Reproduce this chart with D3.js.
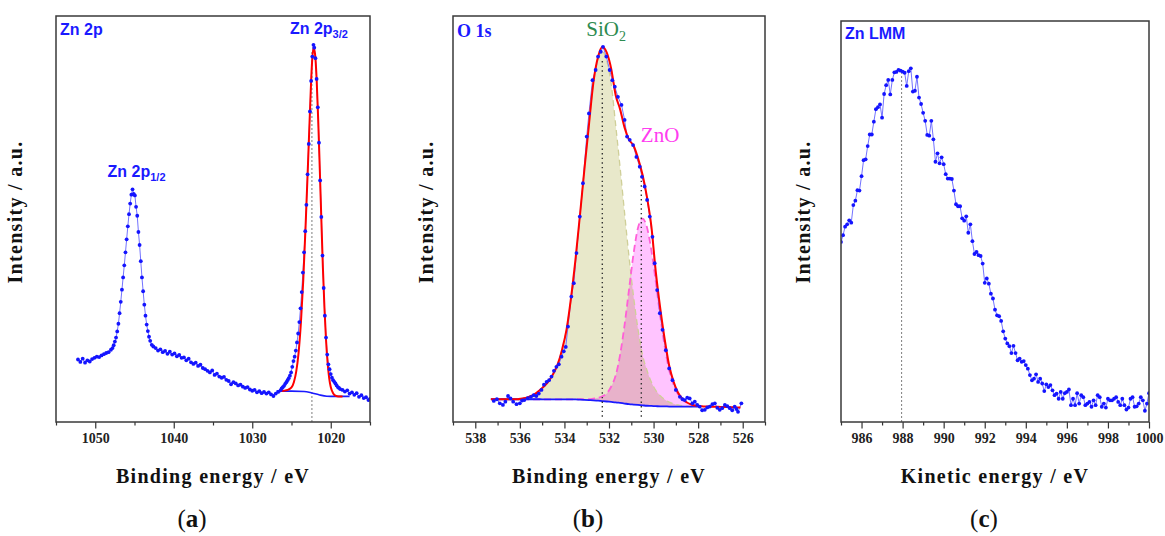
<!DOCTYPE html>
<html>
<head>
<meta charset="utf-8">
<script src="https://cdn.jsdelivr.net/npm/d3@7"></script>
<style>
  body { margin: 0; background: #fff; }
  svg { display: block; }
  .tick text { font-family: "Liberation Serif", "Times New Roman", serif; font-weight: bold; font-size: 14px; fill: #222; }
  .tick line { stroke: #333; stroke-width: 1.2; }
</style>
</head>
<body>
<svg id="chart" width="1165" height="536"></svg>
<script>
// ---- (a) Zn 2p : [binding energy eV, intensity a.u.] ----
const zn2pData = [
  [1052.2,15.4],[1051.9,14.8],[1051.6,15.6],[1051.3,14.6],[1051.0,15.2],[1050.7,14.9],[1050.4,15.5],[1050.1,15.8],
  [1049.8,16.1],[1049.5,16.0],[1049.2,16.4],[1048.9,16.7],[1048.6,17.0],[1048.3,17.2],[1048.0,17.8],
  [1047.8,18.2],[1047.65,18.9],[1047.5,19.8],[1047.35,20.8],[1047.2,22.3],[1047.05,24.2],[1046.9,26.8],[1046.75,29.6],
  [1046.6,32.6],[1046.45,35.6],[1046.3,38.6],[1046.15,41.8],[1046.0,45.0],[1045.85,48.2],[1045.7,51.2],[1045.55,53.8],
  [1045.4,56.0],[1045.25,57.3],[1045.1,56.2],[1044.95,55.8],[1044.8,53.0],[1044.65,50.8],[1044.5,46.8],[1044.35,43.6],
  [1044.2,39.6],[1044.05,35.6],[1043.9,32.2],[1043.75,28.9],[1043.6,26.2],[1043.45,24.0],[1043.3,22.4],[1043.15,21.0],
  [1043.0,20.0],[1042.8,19.0],
  [1042.6,18.6],[1042.3,18.2],[1042.0,17.6],[1041.7,17.9],[1041.4,17.2],[1041.1,17.5],[1040.8,16.8],[1040.5,17.3],
  [1040.2,16.6],[1039.9,16.9],[1039.6,16.2],[1039.3,16.5],[1039.0,15.8],[1038.7,15.9],[1038.4,15.2],[1038.1,15.6],
  [1037.8,14.7],[1037.5,14.3],[1037.2,14.6],[1036.9,13.8],[1036.6,14.1],[1036.3,13.3],[1036.0,13.0],[1035.7,12.6],
  [1035.4,12.2],[1035.1,12.7],[1034.8,11.6],[1034.5,11.9],[1034.2,11.2],[1033.9,10.9],[1033.6,11.1],[1033.3,10.4],
  [1033.0,10.1],[1032.7,9.3],[1032.4,9.8],[1032.1,9.5],[1031.8,9.0],[1031.5,9.2],[1031.2,8.7],[1030.9,8.4],
  [1030.6,8.6],[1030.3,8.0],[1030.0,7.7],[1029.7,7.9],[1029.4,7.3],[1029.1,7.6],[1028.8,7.1],[1028.5,7.4],
  [1028.2,7.0],[1027.9,7.3],[1027.6,6.8],[1027.3,6.4],[1027.0,7.0],[1026.7,7.4],
  [1026.4,7.8],[1026.25,8.3],[1026.1,8.6],[1025.95,8.9],[1025.8,9.4],[1025.65,9.8],[1025.5,10.3],[1025.35,10.8],
  [1025.2,11.4],[1025.05,12.2],[1024.9,13.6],[1024.75,15.0],[1024.6,16.1],[1024.45,17.6],[1024.3,19.6],[1024.15,21.8],
  [1024.0,24.6],[1023.85,28.0],[1023.7,32.0],[1023.55,36.8],[1023.4,41.8],[1023.25,47.0],[1023.1,53.5],[1022.95,61.0],
  [1022.8,68.5],[1022.65,76.5],[1022.5,84.0],[1022.35,90.0],[1022.2,92.9],[1022.1,92.2],[1021.95,89.6],[1021.8,84.5],
  [1021.65,77.5],[1021.5,68.8],[1021.35,59.5],[1021.2,50.5],[1021.05,41.0],[1020.9,33.0],[1020.75,26.2],[1020.6,20.8],
  [1020.45,16.6],[1020.3,14.2],[1020.15,13.0],[1020.0,11.8],[1019.85,10.9],[1019.7,10.3],[1019.55,9.9],[1019.4,9.5],
  [1019.25,9.0],[1019.1,8.6],[1018.95,8.4],[1018.8,8.1],
  [1018.5,7.9],[1018.2,7.5],[1017.9,7.8],[1017.6,7.0],[1017.3,7.3],[1017.0,6.7],[1016.7,7.1],[1016.4,6.2],
  [1016.1,6.6],[1015.8,5.9],[1015.5,6.1],[1015.2,5.4],[1015.0,5.7]
];
const zn2pFit = [
  [1026.6,7.6],[1026.0,7.7],[1025.5,7.9],[1025.0,8.5],[1024.7,9.8],[1024.4,12.4],[1024.1,17.0],[1023.8,24.5],
  [1023.5,35.0],[1023.2,48.5],[1022.9,63.5],[1022.6,79.0],[1022.4,88.0],[1022.2,92.2],[1022.0,90.6],[1021.8,84.5],
  [1021.6,74.5],[1021.4,62.5],[1021.2,50.0],[1021.0,38.0],[1020.8,28.0],[1020.6,20.2],[1020.4,14.6],[1020.2,10.8],
  [1020.0,8.6],[1019.7,7.1],[1019.4,6.5],[1019.0,6.3],[1018.5,6.3]
];
const zn2pBackground = [
  [1026.9,7.6],[1025.0,7.6],[1023.4,7.5],[1022.5,7.2],[1021.5,6.7],[1020.5,6.35],[1019.5,6.3],[1017.6,6.3]
];
const zn2pPeak = [1022.4, 91.5];
const zn2pTicks = [1050, 1040, 1030, 1020];
const zn2pMinorTicks = [1055, 1045, 1035, 1025, 1015];

// ---- (b) O 1s ----
const o1sData = [
  [537.17,5.2],[537.03,5.6],[536.9,4.6],[536.76,4.2],[536.65,5.0],[536.53,6.4],[536.42,5.8],[536.3,5.0],
  [536.15,4.4],[536.0,4.6],[535.9,5.3],[535.8,5.4],[535.65,5.9],[535.5,6.2],[535.38,6.6],[535.26,6.4],
  [535.15,7.0],[535.03,7.9],[534.92,9.2],[534.8,9.9],[534.69,10.3],[534.58,11.2],[534.47,12.6],[534.36,13.6],
  [534.25,14.2],[534.13,16.1],[534.03,17.4],[533.94,18.5],[533.84,23.5],[533.69,30.9],[533.58,34.2],[533.46,41.6],
  [533.31,50.6],[533.17,58.8],[533.0,70.3],[532.9,76.0],[532.74,84.2],[532.6,86.7],[532.49,90.0],[532.37,91.2],
  [532.27,92.4],[532.12,90.0],[531.97,86.7],[531.85,84.2],[531.74,82.6],[531.6,80.1],[531.44,78.1],[531.3,74.4],
  [531.19,70.3],[531.07,69.5],[530.92,68.2],[530.77,65.3],[530.62,62.9],[530.52,60.4],[530.4,58.0],[530.29,54.7],
  [530.17,50.6],[530.05,45.6],[529.95,39.1],[529.84,32.5],[529.72,26.8],[529.6,22.7],[529.45,17.7],[529.3,13.2],
  [529.15,10.3],[529.0,7.9],[528.82,6.2],[528.7,5.6],[528.6,5.4],[528.49,6.0],[528.38,5.8],[528.26,4.6],
  [528.15,5.0],[528.04,4.2],[527.93,3.8],[527.82,2.9],[527.7,3.0],[527.59,3.6],[527.48,3.8],[527.36,4.4],
  [527.25,4.6],[527.14,3.5],[527.03,3.0],[526.92,3.4],[526.8,4.2],[526.69,3.9],[526.58,3.4],[526.47,2.9],
  [526.36,3.8],[526.28,3.2],[526.21,2.5],[526.06,4.6]
];
const o1sFitEnergy = [
  537.3,537.1,536.9,536.7,536.5,536.3,536.1,535.9,535.7,535.5,535.3,535.1,534.9,534.7,534.5,534.3,534.1,533.9,533.7,
  533.5,533.3,533.1,532.9,532.7,532.5,532.3,532.1,531.9,531.7,531.5,531.3,531.1,530.9,530.7,530.5,530.3,530.1,529.9,
  529.7,529.5,529.3,529.1,528.9,528.7,528.5,528.3,528.1,527.9,527.7,527.5,527.3,527.1,526.9,526.7,526.5,526.3,526.1
];
const o1sEnvelope = [
  5.6,5.6,5.6,5.6,5.6,5.6,5.6,5.8,6.0,6.4,7.0,7.9,8.85,10.15,11.85,14.25,17.95,22.95,30.75,
  40.25,51.15,62.45,73.2,83.65,89.75,92.35,90.95,86.95,80.5,77.0,72.5,69.5,68.1,65.0,61.0,55.5,48.25,37.0,
  28.0,20.35,13.9,9.9,7.2,5.7,4.8,4.3,4.0,3.9,3.8,3.8,3.75,3.75,3.7,3.7,3.65,3.6,3.6
];
const o1sSiO2 = [
  5.6,5.6,5.6,5.6,5.6,5.6,5.6,5.8,6.0,6.4,7.0,7.9,8.85,10.15,11.85,14.25,17.95,22.95,30.75,
  40.25,51.0,62.35,73.0,83.25,89.05,91.15,88.95,83.15,73.15,62.6,51.45,40.6,31.0,22.9,16.6,12.8,9.85,7.8,
  6.45,5.55,4.9,4.5,4.2,4.0,3.9,3.8,3.8,3.8,null,null,null,null,null,null,null,null,null
];
const o1sZnO = [
  null,null,null,null,null,null,null,5.6,5.6,5.6,5.6,5.6,5.55,5.55,5.55,5.55,5.55,5.55,5.55,
  5.55,5.65,5.55,5.6,5.75,5.95,6.35,7.05,8.75,11.45,16.6,23.95,32.7,41.4,47.8,50.1,48.0,42.35,34.5,
  26.05,18.65,12.8,9.2,6.8,5.5,4.7,4.3,4.0,3.9,null,null,null,null,null,null,null,null,null
];
const o1sBackground = [
  5.6,5.6,5.6,5.6,5.6,5.6,5.6,5.6,5.6,5.6,5.6,5.6,5.55,5.55,5.55,5.55,5.55,5.55,5.55,
  5.55,5.5,5.45,5.4,5.35,5.25,5.15,5.05,4.95,4.85,4.7,4.55,4.4,4.3,4.2,4.1,4.0,3.95,3.9,
  3.85,3.85,3.8,3.8,3.8,3.8,3.8,3.8,3.8,3.8,null,null,null,null,null,null,null,null,null
];
const o1sPeaks = [532.3, 530.55];
const o1sPeakTops = [89.6, 60.4];
const o1sTicks = [538, 536, 534, 532, 530, 528, 526];
const o1sMinorTicks = [539, 537, 535, 533, 531, 529, 527, 525];

// ---- (c) Zn LMM : [kinetic energy eV, intensity a.u.] ----
const lmmData = [
  [985.0,44.9],[985.1,46.6],[985.2,48.7],[985.3,49.3],[985.4,50.3],[985.5,49.7],[985.6,54.1],[985.7,55.2],[985.8,57.8],[985.9,57.7],
  [986.0,61.3],[986.1,65.3],[986.2,65.5],[986.3,68.8],[986.4,71.7],[986.5,71.7],[986.6,74.9],[986.7,78.0],[986.8,78.5],[986.9,79.2],
  [987.0,75.9],[987.1,81.8],[987.2,84.0],[987.3,85.3],[987.4,81.7],[987.5,85.3],[987.6,87.2],[987.7,87.3],[987.8,87.8],[987.9,87.6],
  [988.0,87.4],[988.1,87.1],[988.2,83.8],[988.3,87.5],[988.4,88.2],[988.5,82.4],[988.6,82.6],[988.7,86.1],[988.8,80.9],[988.9,79.3],
  [989.0,77.1],[989.1,75.1],[989.2,71.6],[989.3,71.4],[989.4,75.1],[989.5,70.5],[989.6,64.9],[989.7,67.0],[989.8,64.5],[989.9,66.0],
  [990.0,64.3],[990.1,61.8],[990.2,60.7],[990.3,60.7],[990.4,60.6],[990.5,57.7],[990.6,54.3],[990.7,53.8],[990.8,53.8],[990.9,50.8],
  [991.0,50.2],[991.1,51.3],[991.2,47.2],[991.3,49.3],[991.4,45.1],[991.5,41.9],[991.6,42.4],[991.7,41.6],[991.8,41.4],[991.9,39.5],
  [992.0,34.7],[992.1,35.8],[992.2,34.5],[992.3,32.0],[992.4,30.8],[992.5,28.0],[992.6,26.6],[992.7,26.4],[992.8,25.2],[992.9,22.6],
  [993.0,20.8],[993.1,19.6],[993.2,18.9],[993.3,17.2],[993.4,19.0],[993.5,17.2],[993.6,15.4],[993.7,15.8],[993.8,15.0],[993.9,15.2],
  [994.0,14.2],[994.1,13.3],[994.2,11.7],[994.3,10.4],[994.4,10.8],[994.5,11.9],[994.6,10.0],[994.7,10.8],[994.8,9.6],[994.9,7.7],
  [995.0,9.4],[995.1,8.7],[995.2,9.2],[995.3,7.9],[995.4,6.7],[995.5,7.1],[995.6,5.8],[995.7,7.5],[995.8,5.8],[995.9,7.2],
  [996.0,7.5],[996.1,8.1],[996.2,4.2],[996.3,5.8],[996.4,4.2],[996.5,7.2],[996.6,4.6],[996.7,6.7],[996.8,6.2],[996.9,4.2],
  [997.0,4.6],[997.1,5.0],[997.2,3.8],[997.3,5.4],[997.4,4.2],[997.5,6.7],[997.6,6.2],[997.7,3.8],[997.8,4.6],[997.9,3.6],
  [998.0,5.8],[998.1,5.4],[998.2,5.4],[998.3,5.8],[998.4,6.2],[998.5,5.0],[998.6,4.2],[998.7,5.8],[998.8,4.2],[998.9,3.1],
  [999.0,3.6],[999.1,5.8],[999.2,6.2],[999.3,3.8],[999.4,3.9],[999.5,4.6],[999.6,6.2],[999.7,5.4],[999.8,2.8],[999.9,4.6],
  [1000.0,7.2]
];
const lmmPeak = [987.95, 87];
const lmmTicks = [986, 988, 990, 992, 994, 996, 998, 1000];
const lmmMinorTicks = [985, 987, 989, 991, 993, 995, 997, 999];

const svg = d3.select("#chart");
const serif = '"Liberation Serif", "Times New Roman", serif';
const sans = '"Liberation Sans", Arial, sans-serif';

function makePanel(id, box, xDomain, ticks, minorTicks, xTitle, letter, letterX, yTitleX) {
  const g = svg.append("g").attr("transform", `translate(${box.left},${box.top})`);
  const x = d3.scaleLinear().domain(xDomain).range([0, box.width]);
  const y = d3.scaleLinear().domain([0, 100]).range([box.height, 0]);

  g.append("clipPath").attr("id", "clip-" + id)
    .append("rect").attr("width", box.width).attr("height", box.height);
  const plot = g.append("g").attr("clip-path", `url(#clip-${id})`);

  // minor and major ticks
  g.append("g")
    .attr("transform", `translate(0,${box.height})`)
    .call(d3.axisBottom(x).tickValues(minorTicks).tickSize(3.5).tickFormat(""))
    .call(a => a.select(".domain").remove());
  g.append("g")
    .attr("transform", `translate(0,${box.height})`)
    .call(d3.axisBottom(x).tickValues(ticks).tickSize(6.5).tickPadding(5).tickFormat(d3.format("d")))
    .call(a => a.select(".domain").remove());

  // axis titles
  svg.append("text")
    .attr("x", box.left + box.width / 2).attr("y", 483)
    .attr("text-anchor", "middle")
    .style("font-family", serif).style("font-weight", "bold").style("font-size", "20px")
    .style("letter-spacing", "1.3px").style("fill", "#111")
    .text(xTitle);
  svg.append("text")
    .attr("transform", `translate(${yTitleX},212) rotate(-90)`)
    .attr("text-anchor", "middle")
    .style("font-family", serif).style("font-weight", "bold").style("font-size", "20px")
    .style("letter-spacing", "1.3px").style("fill", "#111")
    .text("Intensity / a.u.");

  // panel letter
  const t = svg.append("text")
    .attr("x", letterX).attr("y", 527)
    .attr("text-anchor", "middle")
    .style("font-family", serif).style("font-size", "25px").style("fill", "#111");
  t.append("tspan").text("(");
  t.append("tspan").style("font-weight", "bold").text(letter);
  t.append("tspan").text(")");

  return { g, plot, x, y, box };
}

function drawFrame(p) {
  p.g.append("rect")
    .attr("width", p.box.width).attr("height", p.box.height)
    .attr("fill", "none").attr("stroke", "#3a3a3a").attr("stroke-width", 1.5);
}

function drawSpectrum(p, data) {
  const line = d3.line().x(d => p.x(d[0])).y(d => p.y(d[1]));
  p.plot.append("path").datum(data)
    .attr("d", line).attr("fill", "none")
    .attr("stroke", "#7373ff").attr("stroke-width", 1);
}

function drawDots(p, data) {
  p.plot.append("g").selectAll("circle")
    .data(data).join("circle")
    .attr("cx", d => p.x(d[0])).attr("cy", d => p.y(d[1]))
    .attr("r", 1.9).attr("fill", "#1414ff");
}

function drawCurve(p, data, color, width, dash) {
  const line = d3.line()
    .defined(d => d[1] != null)
    .x(d => p.x(d[0])).y(d => p.y(d[1]))
    .curve(d3.curveMonotoneX);
  const path = p.plot.append("path").datum(data)
    .attr("d", line).attr("fill", "none")
    .attr("stroke", color).attr("stroke-width", width);
  if (dash) path.attr("stroke-dasharray", dash);
  return path;
}

function drawMarker(p, xv, top, bottom, color, dash, width) {
  p.plot.append("line")
    .attr("x1", p.x(xv)).attr("x2", p.x(xv))
    .attr("y1", p.y(bottom)).attr("y2", p.y(top))
    .attr("stroke", color).attr("stroke-width", width)
    .attr("stroke-dasharray", dash);
}

// ---------- (a) ----------
const pa = makePanel("a", { left: 56, top: 16, width: 314, height: 406 }, [1055, 1015],
  zn2pTicks, zn2pMinorTicks, "Binding energy / eV", "a", 192, 22);
drawMarker(pa, zn2pPeak[0], zn2pPeak[1], 0, "#8a8a8a", "2,2", 1.1);
drawSpectrum(pa, zn2pData);
drawCurve(pa, zn2pBackground, "#1a1aff", 1.6);
drawCurve(pa, zn2pFit, "#ff0000", 2);
drawDots(pa, zn2pData);
drawFrame(pa);

pa.g.append("text").attr("x", 4).attr("y", 19)
  .style("font-family", sans).style("font-weight", "bold").style("font-size", "16px").style("fill", "#1a1aff")
  .text("Zn 2p");
const l32 = pa.g.append("text").attr("x", pa.x(zn2pPeak[0]) - 22).attr("y", 17.5)
  .style("font-family", sans).style("font-weight", "bold").style("font-size", "16px").style("fill", "#1a1aff");
l32.append("tspan").text("Zn 2p");
l32.append("tspan").attr("dy", 4.5).style("font-size", "11px").text("3/2");
const l12 = pa.g.append("text").attr("x", pa.x(1045.25) - 25).attr("y", 160.5)
  .style("font-family", sans).style("font-weight", "bold").style("font-size", "16px").style("fill", "#1a1aff");
l12.append("tspan").text("Zn 2p");
l12.append("tspan").attr("dy", 4.5).style("font-size", "11px").text("1/2");

// ---------- (b) ----------
const pb = makePanel("b", { left: 453, top: 16, width: 312, height: 406 }, [539, 525],
  o1sTicks, o1sMinorTicks, "Binding energy / eV", "b", 588, 433);

const rows = o1sFitEnergy.map((e, i) => ({ e, env: o1sEnvelope[i], si: o1sSiO2[i], zn: o1sZnO[i], bg: o1sBackground[i] }));
const compArea = key => d3.area()
  .defined(d => d[key] != null && d.bg != null)
  .x(d => pb.x(d.e)).y0(d => pb.y(d.bg)).y1(d => pb.y(d[key]))
  .curve(d3.curveMonotoneX);
pb.plot.append("path").datum(rows).attr("d", compArea("si")).attr("fill", "#e8e8ca");
pb.plot.append("path").datum(rows).attr("d", compArea("zn")).attr("fill", "#ffc4ff")
  .style("mix-blend-mode", "multiply");
drawCurve(pb, rows.map(d => [d.e, d.si]), "#cfcf98", 1.3, "6,4");
drawCurve(pb, rows.map(d => [d.e, d.zn]), "#ff5fd8", 1.8, "7,4");
drawCurve(pb, rows.map(d => [d.e, d.bg]), "#1a1aff", 1.8);
o1sPeaks.forEach((e, i) => drawMarker(pb, e, o1sPeakTops[i], 1.3, "#333", "1.4,3.2", 1.4));
drawSpectrum(pb, o1sData);
drawCurve(pb, rows.map(d => [d.e, d.env]), "#ff0000", 2);
drawDots(pb, o1sData);
drawFrame(pb);

pb.g.append("text").attr("x", 4).attr("y", 21)
  .style("font-family", serif).style("font-weight", "bold").style("font-size", "18px").style("fill", "#1a1aff")
  .text("O 1s");
const si = pb.g.append("text").attr("x", pb.x(o1sPeaks[0]) - 16).attr("y", 20)
  .style("font-family", serif).style("font-size", "21px").style("fill", "#2e8b50");
si.append("tspan").text("SiO");
si.append("tspan").attr("dy", 5).style("font-size", "14px").text("2");
pb.g.append("text").attr("x", pb.x(o1sPeaks[1]) - 0.5).attr("y", 125.5)
  .style("font-family", serif).style("font-size", "21px").style("fill", "#ff3cf0")
  .text("ZnO");

// ---------- (c) ----------
const pc = makePanel("c", { left: 841, top: 21, width: 308, height: 401 }, [985, 1000],
  lmmTicks, lmmMinorTicks, "Kinetic energy / eV", "c", 984, 810);
drawMarker(pc, lmmPeak[0], lmmPeak[1], 0, "#8a8a8a", "2,2", 1.1);
drawSpectrum(pc, lmmData);
drawDots(pc, lmmData);
drawFrame(pc);

pc.g.append("text").attr("x", 4).attr("y", 18)
  .style("font-family", sans).style("font-weight", "bold").style("font-size", "16px").style("fill", "#1a1aff")
  .text("Zn LMM");
</script>
</body>
</html>
